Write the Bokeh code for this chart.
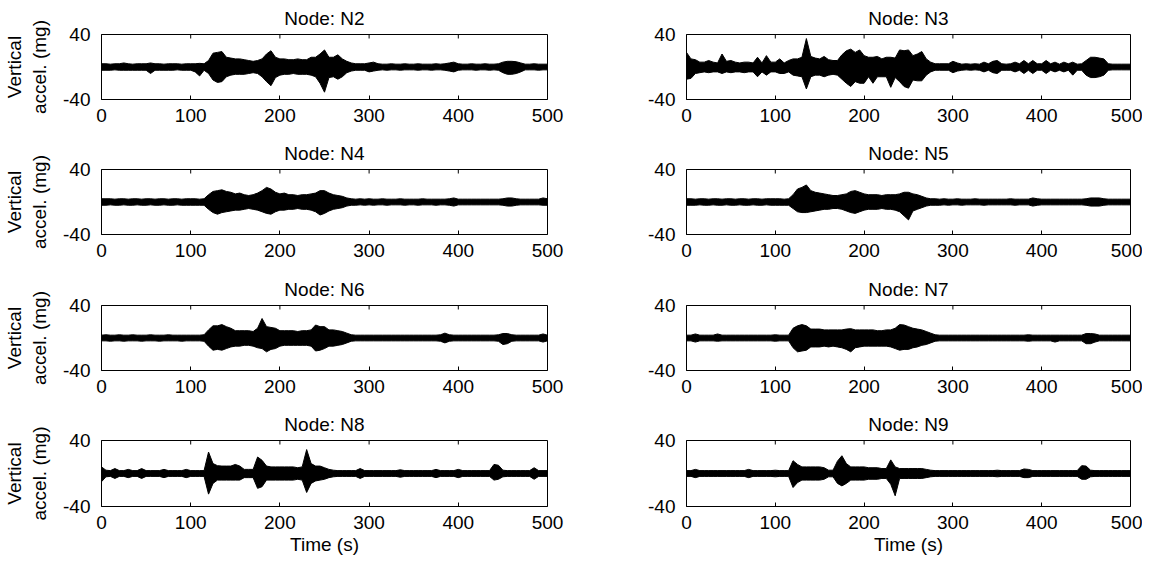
from bokeh.plotting import figure
from bokeh.layouts import column, row
from bokeh.models import Range1d, FixedTicker
from bokeh.embed import file_html
from bokeh.resources import INLINE

# ---------------- data ----------------
time_s = list(range(0, 501, 5))          # envelope sample times (s)
x_ticks = [0, 100, 200, 300, 400, 500]
y_ticks = [-40, 40]
y_tick_labels = {-40: "-40", 40: "40"}
nodes = ["N2", "N3", "N4", "N5", "N6", "N7", "N8", "N9"]

# upper / lower envelope of vertical acceleration (mg), every 5 s
n2_hi = [4, 4, 3.5, 4, 4, 5, 4, 3.5, 4, 4,
         4, 5, 4, 4, 3.5, 4, 4, 4, 3.5, 4,
         4, 4, 4.5, 4, 8, 17, 18, 19, 12, 11,
         10, 10, 9, 8, 7, 8, 10, 16, 20, 12,
         10, 10, 9, 9, 10, 9, 9, 12, 12, 16,
         21, 12, 12, 15, 10, 7, 5, 4, 4, 4,
         5, 6, 4, 3.5, 3.5, 4, 3.5, 3.5, 4, 3.5,
         3.5, 4, 3.5, 3.5, 3.5, 4, 3.5, 4, 5, 6,
         4, 3.5, 3.5, 4, 3.5, 3.5, 4, 3.5, 3.5, 4,
         6, 7, 7, 6.5, 5, 3.5, 3.5, 4, 3.5, 3.5,
         3.5]
n2_lo = [-4, -4, -4, -3.5, -4, -4, -4, -4, -4, -4,
         -4, -8, -4, -4, -4, -4, -4, -3.5, -4, -4,
         -4, -6, -11, -4, -8, -16, -19, -18, -12, -10,
         -9, -9, -9, -8, -7, -8, -12, -18, -23, -13,
         -10, -9, -9, -8, -9, -9, -9, -10, -12, -20,
         -31, -13, -12, -15, -12, -7, -5, -4, -4, -4,
         -6, -5, -4, -3.5, -4, -3.5, -3.5, -4, -3.5, -3.5,
         -3.5, -4, -3.5, -3.5, -4, -3.5, -3.5, -4, -5, -6,
         -4, -3.5, -3.5, -3.5, -4, -3.5, -3.5, -4, -3.5, -4,
         -7, -9, -9, -8, -6, -3.5, -3.5, -3.5, -4, -3.5,
         -3.5]
n3_hi = [18, 10, 9, 6, 6, 8, 6, 5, 16, 7,
         8, 6, 5, 6, 6, 5, 12, 5, 14, 6,
         6, 10, 5, 8, 10, 10, 12, 35, 13, 11,
         10, 13, 9, 8, 8, 15, 20, 22, 18, 21,
         14, 12, 12, 13, 10, 12, 12, 11, 21, 20,
         21, 14, 16, 19, 10, 6, 4, 4, 4, 4,
         7, 5, 3.5, 4, 3.5, 4, 3.5, 6, 4, 7,
         8, 4, 3.5, 4, 6, 4, 8, 4, 8, 4,
         4, 8, 4, 6, 3.5, 6, 4, 6, 3.5, 4,
         8, 12, 12, 11, 10, 4, 3.5, 3.5, 3.5, 3.5,
         3.5]
n3_lo = [-15, -14, -8, -7, -6, -7, -6, -6, -8, -6,
         -7, -6, -6, -7, -6, -6, -12, -6, -10, -6,
         -6, -8, -8, -6, -10, -11, -12, -27, -12, -10,
         -10, -12, -10, -9, -10, -15, -20, -24, -18, -20,
         -20, -12, -20, -12, -12, -12, -25, -13, -18, -24,
         -26, -16, -17, -17, -10, -6, -4, -4, -4, -4,
         -7, -5, -4, -3.5, -4, -3.5, -4, -6, -4, -7,
         -8, -4, -4, -4, -6, -4, -8, -4, -8, -4,
         -4, -8, -4, -6, -4, -6, -4, -10, -4, -4,
         -10, -13, -13, -12, -10, -4, -3.5, -3.5, -3.5, -3.5,
         -3.5]
n4_hi = [4, 4, 4, 3.5, 4, 4, 3.5, 4, 4, 3.5,
         4, 4, 3.5, 4, 4, 3.5, 4, 4, 3.5, 4,
         4, 4, 3.5, 4, 9, 13, 14, 15, 13, 12,
         10, 11, 9, 8, 9, 11, 14, 18, 16, 12,
         10, 11, 9, 9, 8, 9, 9, 10, 11, 14,
         14, 11, 9, 8, 7, 5, 4, 3.5, 4, 3.5,
         4, 3.5, 3.5, 4, 3.5, 3.5, 3.5, 4, 3.5, 3.5,
         3.5, 3.5, 4, 3.5, 3.5, 3.5, 3.5, 3.5, 4, 5,
         3.5, 3.5, 3.5, 3.5, 3.5, 3.5, 3.5, 3.5, 3.5, 3.5,
         4, 5, 5, 4, 3.5, 3.5, 3.5, 3.5, 3.5, 5,
         4]
n4_lo = [-4, -4, -3.5, -4, -4, -3.5, -4, -4, -3.5, -4,
         -4, -3.5, -4, -4, -3.5, -4, -4, -3.5, -4, -4,
         -4, -4, -4, -4, -9, -13, -15, -13, -12, -11,
         -10, -10, -9, -8, -9, -10, -12, -14, -15, -12,
         -10, -10, -9, -9, -8, -9, -9, -10, -12, -16,
         -14, -11, -9, -8, -7, -5, -4, -4, -3.5, -4,
         -3.5, -4, -3.5, -3.5, -4, -3.5, -3.5, -3.5, -4, -3.5,
         -3.5, -4, -3.5, -3.5, -3.5, -4, -3.5, -3.5, -4, -5,
         -3.5, -3.5, -3.5, -3.5, -3.5, -3.5, -3.5, -3.5, -3.5, -3.5,
         -4, -5, -5, -4, -3.5, -3.5, -3.5, -3.5, -3.5, -4,
         -4]
n5_hi = [4, 4, 3.5, 4, 4, 3.5, 4, 4, 3.5, 4,
         4, 3.5, 4, 4, 3.5, 4, 4, 3.5, 4, 4,
         4, 4, 3.5, 4, 9, 16, 18, 21, 14, 12,
         11, 10, 9, 8, 8, 9, 10, 13, 14, 12,
         10, 9, 9, 9, 8, 9, 9, 9, 10, 12,
         12, 10, 9, 7, 5, 4, 4, 3.5, 4, 3.5,
         3.5, 4, 3.5, 3.5, 3.5, 4, 3.5, 3.5, 3.5, 3.5,
         3.5, 3.5, 3.5, 4, 3.5, 3.5, 3.5, 3.5, 5, 4,
         3.5, 3.5, 3.5, 3.5, 3.5, 3.5, 3.5, 3.5, 3.5, 3.5,
         4, 5, 5, 5, 4, 3.5, 3.5, 3.5, 3.5, 3.5,
         3.5]
n5_lo = [-4, -4, -4, -3.5, -4, -4, -3.5, -4, -4, -3.5,
         -4, -4, -3.5, -4, -4, -3.5, -4, -4, -3.5, -4,
         -4, -4, -4, -4, -8, -12, -13, -13, -12, -11,
         -10, -9, -9, -8, -8, -9, -11, -13, -14, -12,
         -10, -9, -9, -9, -8, -9, -9, -10, -12, -17,
         -22, -11, -9, -7, -5, -4, -4, -4, -3.5, -4,
         -3.5, -3.5, -4, -3.5, -3.5, -3.5, -3.5, -4, -3.5, -3.5,
         -3.5, -3.5, -3.5, -3.5, -4, -3.5, -3.5, -3.5, -5, -4,
         -3.5, -3.5, -3.5, -3.5, -3.5, -3.5, -3.5, -3.5, -3.5, -3.5,
         -4, -5, -5, -5, -4, -3.5, -3.5, -3.5, -3.5, -3.5,
         -3.5]
n6_hi = [3.5, 4, 3.5, 3.5, 4, 3.5, 3.5, 4, 3.5, 3.5,
         3.5, 4, 3.5, 3.5, 3.5, 4, 3.5, 3.5, 3.5, 3.5,
         3.5, 3.5, 3.5, 4, 10, 15, 15, 16.5, 14, 12,
         9, 9, 9, 9, 8, 12, 24, 14, 13, 12,
         9, 9, 9, 9, 8, 9, 9, 10, 16, 14,
         14, 10, 10, 9, 8, 6, 4, 3.5, 3.5, 3.5,
         3.5, 3.5, 3.5, 3.5, 3.5, 3.5, 3.5, 3.5, 3.5, 3.5,
         3.5, 3.5, 3.5, 3.5, 3.5, 3.5, 4, 6, 4, 3.5,
         3.5, 3.5, 3.5, 3.5, 3.5, 3.5, 3.5, 3.5, 3.5, 4,
         5.5, 5.5, 4, 3.5, 3.5, 3.5, 3.5, 3.5, 3.5, 5,
         3.5]
n6_lo = [-3.5, -3.5, -4, -3.5, -3.5, -4, -3.5, -3.5, -3.5, -4,
         -3.5, -3.5, -3.5, -4, -3.5, -3.5, -3.5, -3.5, -4, -3.5,
         -3.5, -3.5, -3.5, -4, -10, -15, -14, -15, -13, -11,
         -10, -10, -9, -9, -10, -12, -13, -17, -14, -13,
         -10, -9, -9, -9, -9, -9, -9, -10, -16, -15,
         -13, -10, -10, -9, -8, -6, -4, -3.5, -3.5, -3.5,
         -3.5, -3.5, -3.5, -3.5, -3.5, -3.5, -3.5, -3.5, -3.5, -3.5,
         -3.5, -3.5, -3.5, -3.5, -3.5, -3.5, -4, -6, -4, -3.5,
         -3.5, -3.5, -3.5, -3.5, -3.5, -3.5, -3.5, -3.5, -3.5, -4,
         -8, -7, -4, -3.5, -3.5, -3.5, -3.5, -3.5, -3.5, -5,
         -3.5]
n7_hi = [3.5, 3.5, 5, 3.5, 3.5, 3.5, 3.5, 5, 3.5, 3.5,
         3.5, 3.5, 3.5, 3.5, 3.5, 3.5, 3.5, 3.5, 3.5, 3.5,
         4, 3.5, 3.5, 3.5, 12, 15, 16.5, 15, 11, 11,
         11, 10, 10, 10, 10, 10, 11, 11.5, 10, 10,
         10, 10, 10, 9, 9, 10, 10, 12, 16.5, 16,
         14, 12, 11, 10, 8, 6, 4, 3.5, 3.5, 3.5,
         3.5, 3.5, 3.5, 3.5, 3.5, 3.5, 3.5, 3.5, 3.5, 3.5,
         3.5, 3.5, 3.5, 3.5, 3.5, 3.5, 3.5, 4, 3.5, 3.5,
         3.5, 3.5, 3.5, 3.5, 3.5, 3.5, 3.5, 3.5, 3.5, 3.5,
         5.5, 5.5, 5, 3.5, 3.5, 3.5, 3.5, 3.5, 3.5, 3.5,
         3.5]
n7_lo = [-3.5, -3.5, -5, -3.5, -3.5, -3.5, -3.5, -4, -3.5, -3.5,
         -3.5, -3.5, -3.5, -3.5, -3.5, -3.5, -3.5, -3.5, -3.5, -3.5,
         -4, -3.5, -3.5, -3.5, -12, -17, -16, -15, -11, -11,
         -11, -10, -11, -10, -11, -12, -14, -17, -12, -11,
         -10, -10, -10, -10, -10, -10, -11, -13, -15, -14,
         -14, -12, -11, -9, -8, -6, -4, -3.5, -3.5, -3.5,
         -3.5, -3.5, -3.5, -3.5, -3.5, -3.5, -3.5, -3.5, -3.5, -3.5,
         -3.5, -3.5, -3.5, -3.5, -3.5, -3.5, -3.5, -4, -3.5, -3.5,
         -3.5, -3.5, -3.5, -5, -3.5, -3.5, -3.5, -3.5, -3.5, -3.5,
         -7, -7, -5, -3.5, -3.5, -3.5, -3.5, -3.5, -3.5, -3.5,
         -3.5]
n8_hi = [8, 4, 3.5, 6, 3.5, 3.5, 5, 3.5, 3.5, 6,
         3.5, 3.5, 3.5, 3.5, 5, 3.5, 3.5, 3.5, 3.5, 5,
         3.5, 3.5, 3.5, 3.5, 26, 12, 9.5, 9, 9, 9,
         11, 9, 5, 5, 5, 20, 16, 9, 8, 8,
         8, 8, 8, 8, 7, 8, 29, 12, 9, 9,
         7, 5, 4, 3.5, 3.5, 3.5, 3.5, 3.5, 6, 3.5,
         3.5, 3.5, 3.5, 3.5, 3.5, 3.5, 3.5, 4.5, 3.5, 3.5,
         3.5, 3.5, 3.5, 3.5, 3.5, 5, 3.5, 3.5, 3.5, 3.5,
         5, 3.5, 3.5, 3.5, 3.5, 3.5, 3.5, 3.5, 11, 10,
         4, 3.5, 3.5, 3.5, 3.5, 3.5, 3.5, 7, 3.5, 3.5,
         3.5]
n8_lo = [-10, -4, -3.5, -6, -3.5, -3.5, -5, -3.5, -3.5, -6,
         -3.5, -3.5, -3.5, -3.5, -5, -3.5, -3.5, -3.5, -3.5, -5,
         -3.5, -3.5, -3.5, -3.5, -25, -12, -8, -8, -8, -8,
         -8, -8, -5, -5, -5, -18, -16, -8, -8, -8,
         -8, -8, -8, -8, -7, -8, -23, -12, -9, -8,
         -7, -5, -4, -3.5, -3.5, -3.5, -3.5, -3.5, -6, -3.5,
         -3.5, -3.5, -3.5, -3.5, -3.5, -3.5, -3.5, -4.5, -3.5, -3.5,
         -3.5, -3.5, -3.5, -3.5, -3.5, -5, -3.5, -3.5, -3.5, -3.5,
         -5, -3.5, -3.5, -3.5, -3.5, -3.5, -3.5, -3.5, -8, -7,
         -4, -3.5, -3.5, -3.5, -3.5, -3.5, -3.5, -7, -3.5, -3.5,
         -3.5]
n9_hi = [3.5, 3.5, 5, 3.5, 3.5, 3.5, 3.5, 3.5, 3.5, 3.5,
         3.5, 3.5, 3.5, 3.5, 5, 3.5, 3.5, 3.5, 3.5, 3.5,
         4, 3.5, 3.5, 3.5, 15.5, 11, 8, 8, 8, 8,
         8, 7, 4, 4, 15, 21.5, 12, 8, 8, 8,
         8, 7, 7, 7, 6, 6, 16.5, 8, 6, 6,
         6, 6, 6, 6, 5, 4, 3.5, 3.5, 3.5, 3.5,
         3.5, 3.5, 3.5, 3.5, 3.5, 3.5, 3.5, 3.5, 3.5, 3.5,
         4, 3.5, 3.5, 3.5, 3.5, 3.5, 5.5, 5, 3.5, 3.5,
         3.5, 3.5, 3.5, 3.5, 3.5, 3.5, 3.5, 3.5, 3.5, 9.5,
         9, 4, 3.5, 3.5, 3.5, 3.5, 3.5, 3.5, 3.5, 3.5,
         3.5]
n9_lo = [-3.5, -3.5, -5, -3.5, -3.5, -3.5, -3.5, -3.5, -3.5, -3.5,
         -3.5, -3.5, -3.5, -3.5, -5, -3.5, -3.5, -3.5, -3.5, -3.5,
         -4, -3.5, -3.5, -3.5, -17, -11, -8, -8, -8, -8,
         -8, -7, -4, -4, -12, -15, -12, -8, -8, -8,
         -8, -7, -7, -7, -6, -6, -13, -27, -6, -6,
         -6, -6, -6, -6, -5, -4, -3.5, -3.5, -3.5, -3.5,
         -3.5, -3.5, -3.5, -3.5, -3.5, -3.5, -3.5, -3.5, -3.5, -3.5,
         -4, -3.5, -3.5, -3.5, -3.5, -3.5, -5, -5, -3.5, -3.5,
         -3.5, -3.5, -3.5, -3.5, -3.5, -3.5, -3.5, -3.5, -3.5, -7,
         -7, -4, -3.5, -3.5, -3.5, -3.5, -3.5, -3.5, -3.5, -3.5,
         -3.5]

his = [n2_hi, n3_hi, n4_hi, n5_hi, n6_hi, n7_hi, n8_hi, n9_hi]
los = [n2_lo, n3_lo, n4_lo, n5_lo, n6_lo, n7_lo, n8_lo, n9_lo]

# ---------------- styling ----------------
FONT = "Liberation Sans"
FS = "19px"
Y_MIN, Y_MAX = -40, 40
TICK_PX = 4


def make_fig(name, hi, lo, c, r):
    fw = 446 if c == 0 else 444
    fh = 66 if r == 3 else 65
    p = figure(frame_width=fw, frame_height=fh,
               x_range=Range1d(0, 500), y_range=Range1d(Y_MIN, Y_MAX),
               output_backend="svg", toolbar_location=None, tools="",
               min_border_left=98 if c == 0 else 99,
               min_border_right=40 if c == 0 else 12,
               min_border_top=[34, 35, 36, 35][r],
               min_border_bottom=[35, 35, 35, 55][r],
               title="Node: " + name)
    p.background_fill_color = "white"
    p.border_fill_color = "white"
    p.outline_line_color = "black"
    p.outline_line_width = 1
    p.outline_line_alpha = 1
    p.xgrid.visible = False
    p.ygrid.visible = False

    p.title.align = "center"
    p.title.text_font = FONT
    p.title.text_font_size = FS
    p.title.text_font_style = "normal"
    p.title.text_color = "black"
    p.title.standoff = 11

    xa = p.xaxis[0]
    xa.ticker = FixedTicker(ticks=x_ticks)
    xa.major_tick_in = TICK_PX
    xa.major_tick_out = 0
    xa.axis_line_color = None
    xa.major_tick_line_color = "black"
    xa.major_label_text_font = FONT
    xa.major_label_text_font_size = FS
    xa.major_label_text_color = "black"
    xa.major_label_standoff = 9
    if r == 3:
        xa.axis_label = "Time (s)"
        xa.axis_label_text_font = FONT
        xa.axis_label_text_font_size = FS
        xa.axis_label_text_font_style = "normal"
        xa.axis_label_text_color = "black"
        xa.axis_label_standoff = 2

    ya = p.yaxis[0]
    ya.ticker = FixedTicker(ticks=y_ticks)
    ya.major_label_overrides = y_tick_labels
    ya.major_tick_in = TICK_PX
    ya.major_tick_out = 0
    ya.axis_line_color = None
    ya.major_label_text_font = FONT
    ya.major_label_text_font_size = FS
    ya.major_label_text_color = "black"
    ya.major_label_standoff = 11
    if c == 0:
        ya.axis_label = "Vertical\naccel. (mg)"
        ya.axis_label_text_font = FONT
        ya.axis_label_text_font_size = FS
        ya.axis_label_text_font_style = "normal"
        ya.axis_label_text_color = "black"
        ya.axis_label_standoff = 10

    # inward tick marks on the top edge of the box (as in the original)
    tick_len = TICK_PX * (Y_MAX - Y_MIN) / fh
    p.segment(x0=x_ticks, y0=[Y_MAX] * len(x_ticks),
              x1=x_ticks, y1=[Y_MAX - tick_len] * len(x_ticks),
              line_color="black", line_width=1)

    # signal envelope
    p.varea(x=time_s, y1=lo, y2=hi, fill_color="black")
    p.line(time_s, hi, line_color="black", line_width=1)
    p.line(time_s, lo, line_color="black", line_width=1)
    return p


figs = [make_fig(nodes[i], his[i], los[i], i % 2, i // 2) for i in range(8)]
layout = column(*[row(figs[2 * k], figs[2 * k + 1]) for k in range(4)])

open("out.html", "w").write(file_html(layout, INLINE))
